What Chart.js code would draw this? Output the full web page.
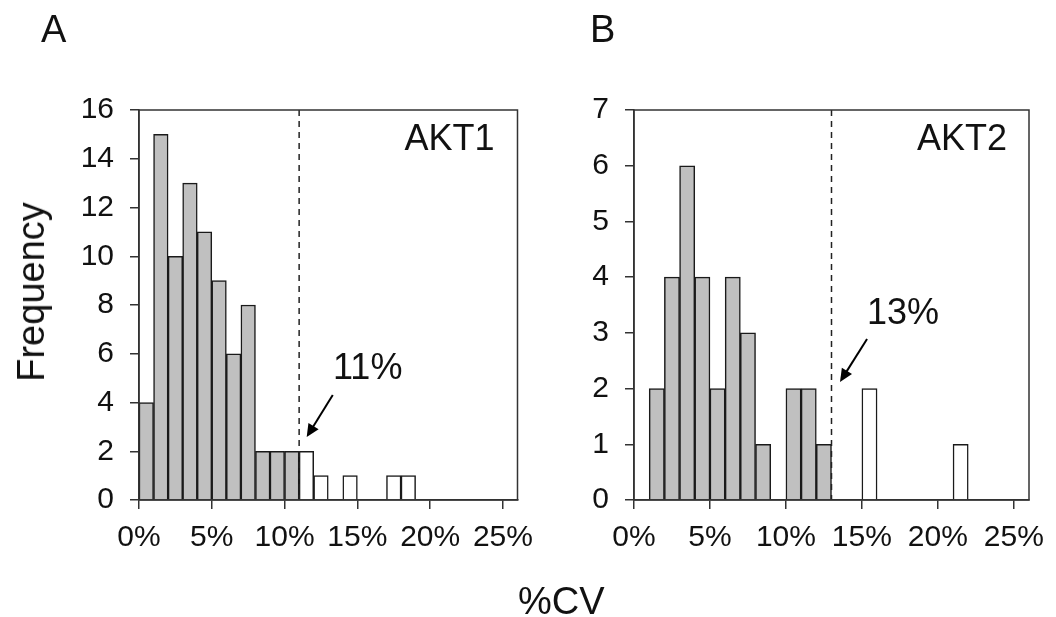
<!DOCTYPE html>
<html>
<head>
<meta charset="utf-8">
<script src="https://cdn.jsdelivr.net/npm/chart.js@4"></script>
<style>
  body { margin: 0; background: #fff; }
  #wrap { position: relative; width: 1056px; height: 617px; overflow: hidden; font-family: "Liberation Sans", Arial, sans-serif; color: #111; }
  canvas { position: absolute; top: 0; }
  .lbl { position: absolute; line-height: 1; font-size: 38px; white-space: nowrap; }
</style>
</head>
<body>
<div id="wrap">
  <canvas id="chartA" width="545" height="617" style="left:0"></canvas>
  <canvas id="chartB" width="511" height="617" style="left:545px"></canvas>
  <div class="lbl" style="left:41px; top:10px;">A</div>
  <div class="lbl" style="left:590px; top:10px;">B</div>
  <div class="lbl" style="left:31px; top:292px; transform: translate(-50%,-50%) rotate(-90deg);">Frequency</div>
  <div class="lbl" style="left:518px; top:582px;">%CV</div>
</div>
<script>
// bins of 1% width, start of each bin in %CV
const binStarts = [0,1,2,3,4,5,6,7,8,9,10,11,12,13,14,15,16,17,18,19,20,21,22,23,24,25]
const akt1Counts = [4,15,10,13,11,9,6,8,2,2,2,2,1,0,1,0,0,1,1,0,0,0,0,0,0,0]
const akt2Counts = [0,2,4,6,4,2,4,3,1,0,2,2,1,0,0,2,0,0,0,0,0,1,0,0,0,0]
const xTicks = [0,5,10,15,20,25]
const akt1Cutoff = 11
const akt2Cutoff = 13

const fontFam = '"Liberation Sans", Arial, sans-serif'
const ink = '#1a1a1a'

// dashed cutoff, arrow, labels and the box around the plot
const decorations = {
    id: 'decorations',
    afterDatasetsDraw(chart, args, opts) {
        const ctx = chart.ctx
        const xs = chart.scales.x, ys = chart.scales.y
        const a = chart.chartArea
        ctx.save()
        // dashed line
        ctx.strokeStyle = '#222'
        ctx.lineWidth = 1.5
        ctx.setLineDash([6, 5])
        const cx = xs.getPixelForValue(opts.cutoff)
        ctx.beginPath()
        ctx.moveTo(cx, a.top)
        ctx.lineTo(cx, a.bottom)
        ctx.stroke()
        ctx.setLineDash([])
        // box
        ctx.strokeStyle = '#333'
        ctx.lineWidth = 1.5
        ctx.strokeRect(a.left, a.top, a.right - a.left, a.bottom - a.top)
        // arrow
        const x1 = xs.getPixelForValue(opts.arrow[0]), y1 = ys.getPixelForValue(opts.arrow[1])
        const x2 = xs.getPixelForValue(opts.arrow[2]), y2 = ys.getPixelForValue(opts.arrow[3])
        const ang = Math.atan2(y2 - y1, x2 - x1)
        ctx.strokeStyle = '#000'
        ctx.lineWidth = 2
        ctx.beginPath()
        ctx.moveTo(x1, y1)
        ctx.lineTo(x2 - 8 * Math.cos(ang), y2 - 8 * Math.sin(ang))
        ctx.stroke()
        ctx.fillStyle = '#000'
        ctx.beginPath()
        ctx.moveTo(x2, y2)
        ctx.lineTo(x2 - 13 * Math.cos(ang) + 6 * Math.sin(ang), y2 - 13 * Math.sin(ang) - 6 * Math.cos(ang))
        ctx.lineTo(x2 - 13 * Math.cos(ang) - 6 * Math.sin(ang), y2 - 13 * Math.sin(ang) + 6 * Math.cos(ang))
        ctx.closePath()
        ctx.fill()
        // texts
        ctx.fillStyle = '#111'
        ctx.font = '36px ' + fontFam
        ctx.textBaseline = 'middle'
        ctx.textAlign = 'center'
        ctx.fillText(opts.cutText, xs.getPixelForValue(opts.cutPos[0]), ys.getPixelForValue(opts.cutPos[1]))
        ctx.textAlign = 'right'
        ctx.fillText(opts.gene, xs.getPixelForValue(opts.genePos[0]), ys.getPixelForValue(opts.genePos[1]))
        ctx.restore()
    }
}

function makeChart(id, counts, cutoff, yMax, yLeft, rightPad, deco) {
    const ctx = document.getElementById(id).getContext('2d')
    return new Chart(ctx, {
        type: 'bar',
        data: {
            datasets: [{
                data: binStarts.map((b, i) => ({x: b + 0.5, y: counts[i]})),
                backgroundColor: binStarts.map(b => b < cutoff ? '#c0c0c0' : '#ffffff'),
                borderColor: ink,
                borderWidth: 1.5,
                barPercentage: 1,
                categoryPercentage: 1
            }]
        },
        options: {
            responsive: false,
            animation: false,
            devicePixelRatio: 1,
            layout: {padding: {left: 0, right: rightPad, top: 110, bottom: 0}},
            plugins: {
                legend: {display: false},
                tooltip: {enabled: false},
                decorations: deco
            },
            scales: {
                x: {
                    type: 'linear',
                    min: 0, max: 26,
                    offset: false,
                    afterFit: s => { s.height = 117 },
                    afterBuildTicks: s => { s.ticks = xTicks.map(v => ({value: v})) },
                    grid: {display: true, offset: false, drawOnChartArea: false, tickLength: 9, color: '#333', lineWidth: 1.5},
                    border: {display: true, color: '#333', width: 1.5},
                    ticks: {
                        includeBounds: false,
                        maxRotation: 0,
                        padding: 11,
                        color: '#111',
                        font: {family: fontFam, size: 30},
                        callback: v => v + '%'
                    }
                },
                y: {
                    min: 0, max: yMax,
                    afterFit: s => { s.width = yLeft },
                    grid: {display: true, offset: false, drawOnChartArea: false, tickLength: 9, color: '#333', lineWidth: 1.5},
                    border: {display: true, color: '#333', width: 1.5},
                    ticks: {
                        stepSize: yMax > 8 ? 2 : 1,
                        padding: 16,
                        color: '#111',
                        font: {family: fontFam, size: 30}
                    }
                }
            }
        },
        plugins: [decorations]
    })
}

const chartA = makeChart('chartA', akt1Counts, akt1Cutoff, 16, 139, 27, {
    cutoff: akt1Cutoff,
    arrow: [13.31, 4.31, 11.52, 2.58],
    cutText: '11%', cutPos: [15.71, 5.37],
    gene: 'AKT1', genePos: [24.42, 14.77]
})
const chartB = makeChart('chartB', akt2Counts, akt2Cutoff, 7, 89, 27, {
    cutoff: akt2Cutoff,
    arrow: [15.34, 2.89, 13.56, 2.12],
    cutText: '13%', cutPos: [17.71, 3.34],
    gene: 'AKT2', genePos: [24.55, 6.46]
})
</script>
</body>
</html>
